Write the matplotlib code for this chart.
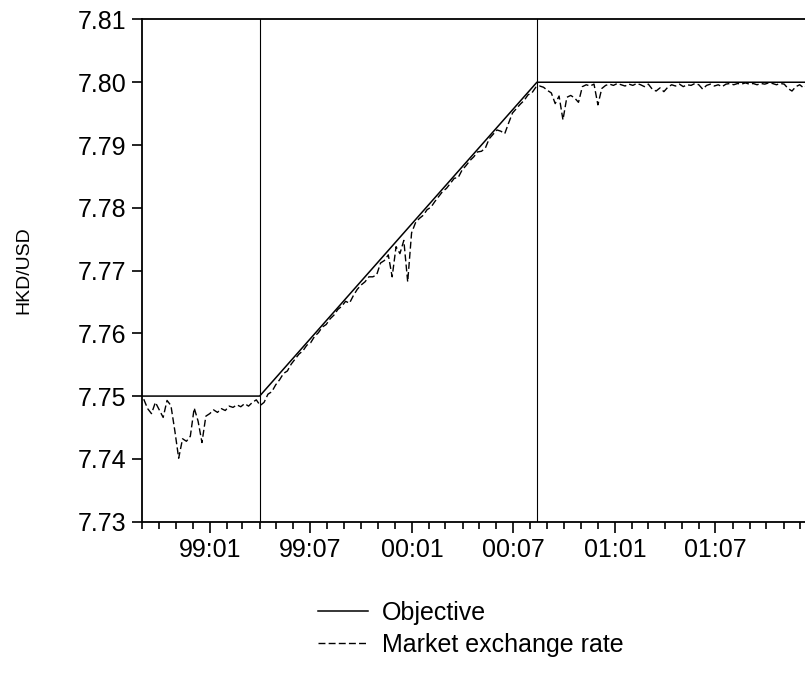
import matplotlib
matplotlib.use("Agg")
import matplotlib.pyplot as plt
import matplotlib.dates as mdates
import pandas as pd

plt.rcParams['font.family'] = ['Liberation Sans', 'DejaVu Sans']

# Objective path (breakpoints)
objective_dates = ['1998-09-01', '1999-04-01', '2000-08-13', '2002-01-01']
objective_values = [7.75, 7.75, 7.80, 7.80]

# Vertical reference lines
event_dates = ['1999-04-01', '2000-08-13']

# Weekly market exchange rate (first observation 1998-09-04)
market_start = '1998-09-04'
market_values = [
    7.7495, 7.7480, 7.7472, 7.7490, 7.7478, 7.7466, 7.7493, 7.7485, 7.7445, 7.7401,
    7.7432, 7.7428, 7.7436, 7.7481, 7.7460, 7.7426, 7.7468, 7.7472, 7.7478, 7.7474,
    7.7480, 7.7477, 7.7484, 7.7482, 7.7486, 7.7483, 7.7488, 7.7484, 7.7490, 7.7494,
    7.7485, 7.7490, 7.7503, 7.7507, 7.7518, 7.7526, 7.7536, 7.7540, 7.7551, 7.7559,
    7.7567, 7.7572, 7.7581, 7.7585, 7.7595, 7.7601, 7.7610, 7.7614, 7.7623, 7.7629,
    7.7638, 7.7643, 7.7651, 7.7648, 7.7660, 7.7670, 7.7677, 7.7682, 7.7690, 7.7690,
    7.7693, 7.7712, 7.7716, 7.7725, 7.7690, 7.7738, 7.7727, 7.7748, 7.7682, 7.7760,
    7.7776, 7.7783, 7.7788, 7.7797, 7.7801, 7.7810, 7.7818, 7.7826, 7.7831, 7.7839,
    7.7847, 7.7848, 7.7860, 7.7867, 7.7875, 7.7881, 7.7889, 7.7890, 7.7895, 7.7910,
    7.7917, 7.7924, 7.7922, 7.7918, 7.7935, 7.7951, 7.7958, 7.7965, 7.7971, 7.7980,
    7.7983, 7.7992, 7.7994, 7.7992, 7.7987, 7.7983, 7.7966, 7.7978, 7.7940, 7.7976,
    7.7979, 7.7975, 7.7968, 7.7993, 7.7996, 7.7994, 7.7997, 7.7964, 7.7990, 7.7995,
    7.7997, 7.7995, 7.7998, 7.7996, 7.7994, 7.7997, 7.7995, 7.7998, 7.7996, 7.7993,
    7.7997, 7.7989, 7.7986, 7.7991, 7.7985, 7.7992, 7.7996, 7.7994, 7.7997, 7.7993,
    7.7996, 7.7995, 7.7998, 7.7996, 7.7989, 7.7995, 7.7997, 7.7994, 7.7996, 7.7993,
    7.7997, 7.7998, 7.7996, 7.7998, 7.7997, 7.7999, 7.7997, 7.7998, 7.7996, 7.7998,
    7.7997, 7.7999, 7.7998, 7.7996, 7.7998, 7.7997, 7.7990, 7.7986, 7.7993, 7.7996,
    7.7991, 7.7995, 7.7997,
]

y_ticks = [7.73, 7.74, 7.75, 7.76, 7.77, 7.78, 7.79, 7.80, 7.81]
x_major_dates = ['1999-01-01', '1999-07-01', '2000-01-01', '2000-07-01',
                 '2001-01-01', '2001-07-01']
x_major_labels = ['99:01', '99:07', '00:01', '00:07', '01:01', '01:07']
y_label = 'HKD/USD'
legend_labels = ['Objective', 'Market exchange rate']

market_dates = pd.date_range(market_start, periods=len(market_values), freq='7D')
obj_dates = pd.to_datetime(objective_dates)

fig = plt.figure(figsize=(8.05, 6.74), dpi=100)
ax = fig.add_axes([0.1765, 0.2261, 0.839, 0.745])

for d in pd.to_datetime(event_dates):
    ax.axvline(d, color='black', lw=0.8, zorder=1)

h1, = ax.plot(obj_dates, objective_values, color='black', lw=1.1, zorder=3)
h2, = ax.plot(market_dates, market_values, color='black', lw=1.0,
              linestyle=(0, (5, 2.3)), zorder=2)

ax.set_xlim(pd.Timestamp('1998-09-01'), pd.Timestamp('2002-01-01'))
ax.set_ylim(7.73, 7.81)
ax.set_yticks(y_ticks)
ax.set_yticklabels([f'{v:.2f}' for v in y_ticks])

ax.set_xticks(pd.to_datetime(x_major_dates))
ax.set_xticklabels(x_major_labels)
ax.xaxis.set_minor_locator(mdates.MonthLocator())

for s in ['left', 'bottom', 'top', 'right']:
    ax.spines[s].set_linewidth(1.3)

ax.tick_params(axis='y', direction='out', length=7, width=1.2, labelsize=18, pad=4.5)
ax.tick_params(axis='x', which='major', direction='out', length=8, width=1.2,
               labelsize=18, pad=4)
ax.tick_params(axis='x', which='minor', direction='out', length=5, width=1.2)

ax.set_ylabel(y_label, fontsize=14)
ax.yaxis.set_label_coords(-0.162, 0.5)

fig.legend([h1, h2], legend_labels, loc='upper left',
           bbox_to_anchor=(0.395, 0.108), frameon=False, fontsize=18,
           handlelength=2.0, handletextpad=0.55, labelspacing=0.3,
           borderpad=0, borderaxespad=0)

fig.savefig('out.png', dpi=100)
